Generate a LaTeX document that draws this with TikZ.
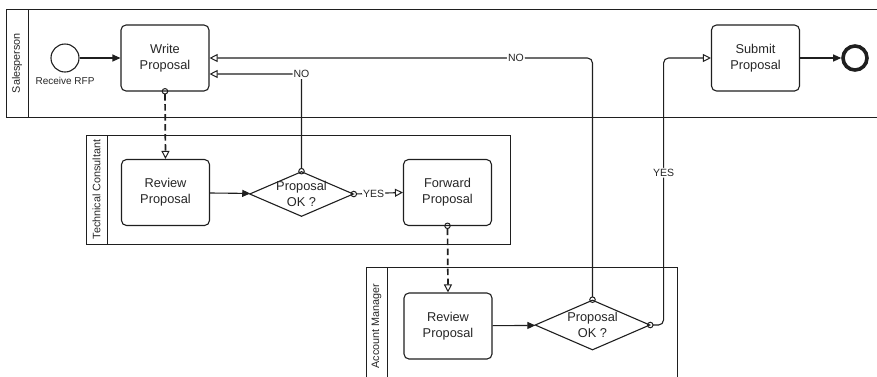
\documentclass[tikz,border=0pt]{standalone}
\usepackage{fontspec}
\setmainfont{Liberation Sans}
\usetikzlibrary{arrows.meta,shapes.geometric}

\begin{document}
\begin{tikzpicture}[x=1pt,y=-1pt,
  line cap=butt,
  ink/.style={draw=black!88},
  pool/.style={ink, line width=1pt},
  poollabel/.style={rotate=90, font=\fontsize{10.8}{13}\selectfont, text=black!85},
  task/.style={ink, rectangle, rounded corners=5pt, line width=1.1pt,
    minimum width=88pt, minimum height=66pt, align=center,
    font=\fontsize{12.8}{16}\selectfont, text=black!85},
  gateway/.style={ink, diamond, line width=1.1pt, inner sep=0pt},
  gwtext/.style={align=center, font=\fontsize{12.8}{16}\selectfont, text=black!85},
  flowlabel/.style={fill=white, inner sep=1.2pt, font=\fontsize{10.5}{12}\selectfont, text=black!85},
  seqflow/.style={ink, line width=1.1pt, -{Triangle[length=8pt,width=7pt]}},
  condflow/.style={ink, line width=1.1pt, rounded corners=5pt, shorten <=-3.5pt,
    {Circle[open,length=6.5pt,width=6.5pt,line width=1pt]}-{Triangle[open,length=8pt,width=8pt,line width=1pt]}},
  msgflow/.style={ink, line width=1.7pt, dash pattern=on 6.5pt off 3.5pt, shorten <=-3.5pt,
    {Circle[open,length=6.5pt,width=6.5pt,line width=1pt]}-{Triangle[open,length=8pt,width=8pt,line width=1pt]}}
]
\useasboundingbox (0,0) rectangle (877,376);

% lanes
\draw[pool] (6,9) rectangle (884,117);
\draw[pool] (28,9) -- (28,117);
\node[poollabel] (lsp) at (17,63) {Salesperson};

\draw[pool] (86,135) rectangle (510,244);
\draw[pool] (107,135) -- (107,244);
\node[poollabel] (ltc) at (96.5,189.5) {Technical Consultant};

\draw[pool] (366,267) rectangle (677,384);
\draw[pool] (387,267) -- (387,384);
\node[poollabel] (lam) at (376.5,326) {Account Manager};

% events
\node[ink, circle, line width=1.1pt, minimum size=28pt, inner sep=0pt] (start) at (65,58) {};
\node[font=\fontsize{10}{12}\selectfont, text=black!85] (rfp) at (65,81) {Receive RFP};
\node[ink, circle, line width=3.6pt, minimum size=24pt, inner sep=0pt] (end) at (855,58) {};

% tasks
\node[task] (write) at (165,58) {Write\\Proposal};
\node[task] (submit) at (755.5,58) {Submit\\Proposal};
\node[task] (tcreview) at (165.5,192.5) {Review\\Proposal};
\node[task] (forward) at (447.5,192.5) {Forward\\Proposal};
\node[task] (amreview) at (448,326) {Review\\Proposal};

% gateways
\node[gateway, minimum width=104pt, minimum height=45pt,
  label={[gwtext]center:Proposal\\OK ?}] (gtc) at (301.5,194) {};
\node[gateway, minimum width=115pt, minimum height=50pt,
  label={[gwtext]center:Proposal\\OK ?}] (gam) at (592.5,325) {};

% sequence flows
\draw[seqflow] (start) -- (write);
\draw[seqflow] (tcreview) -- (gtc);
\draw[seqflow] (amreview) -- (gam);
\draw[seqflow] (submit) -- (end);

% conditional flows
\draw[condflow] (gtc.east) -- node[flowlabel, pos=0.4] {YES} (forward.west);
\draw[condflow] (gtc.north) |- node[flowlabel, pos=0.5] {NO} ([yshift=-16pt]write.east);
\draw[condflow] (gam.north) |- node[flowlabel, pos=0.6] {NO} (write.east);
\draw[condflow] (gam.east) -- ++(13,0) |- node[flowlabel, pos=0.285] {YES} (submit.west);

% message flows
\draw[msgflow] (write.south) -- (tcreview.north);
\draw[msgflow] (forward.south) -- (amreview.north);
\end{tikzpicture}
\end{document}
